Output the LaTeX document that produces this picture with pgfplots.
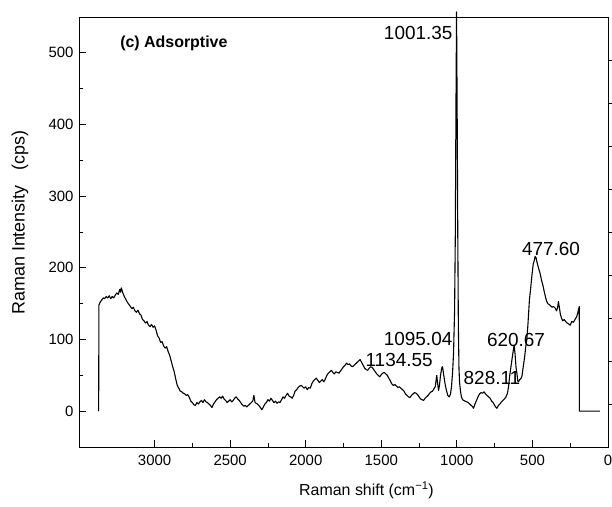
\documentclass[border=0pt]{standalone}
\usepackage{fontspec}
\setmainfont{Liberation Sans}
\usepackage{pgfplots}
\pgfplotsset{compat=1.18}
\pgfplotstableread{
x y
3370 0
3368 148
3360 152
3350 155
3340 158
3330 157
3320 160
3310 158
3300 161
3290 157
3280 160
3270 158
3260 162
3250 165
3240 163
3230 170
3225 166
3220 172
3210 165
3200 160
3190 156
3180 152
3170 149
3160 146
3150 143
3140 145
3130 140
3120 138
3110 141
3100 136
3090 134
3080 128
3070 126
3060 123
3050 125
3040 120
3030 118
3020 121
3010 117
3000 119
2990 113
2980 105
2970 102
2960 96
2950 97
2940 91
2930 88
2920 90
2910 83
2900 78
2890 70
2880 62
2870 55
2860 45
2850 36
2840 32
2830 28
2820 27
2810 25
2800 24
2790 22
2780 23
2770 19
2760 14
2750 12
2740 9
2730 8
2720 12
2710 10
2700 13
2690 15
2680 12
2670 16
2660 13
2650 12
2640 10
2630 8
2620 5
2610 10
2600 13
2590 16
2580 18
2570 20
2560 18
2550 21
2540 17
2530 15
2520 12
2510 14
2500 16
2490 13
2480 15
2470 18
2460 20
2450 17
2440 15
2430 12
2420 9
2410 7
2400 8
2390 6
2380 8
2370 10
2360 12
2350 14
2343 22
2335 12
2320 10
2310 8
2300 5
2290 2
2280 6
2270 10
2260 12
2250 16
2240 14
2230 18
2220 15
2210 12
2200 14
2190 11
2180 13
2170 12
2160 16
2150 20
2140 18
2130 22
2120 25
2110 21
2100 20
2090 18
2080 22
2070 28
2060 30
2050 33
2040 35
2030 36
2020 34
2010 32
2000 34
1990 30
1980 33
1970 32
1960 38
1950 42
1940 44
1930 46
1920 43
1910 40
1900 42
1890 44
1880 41
1870 45
1860 50
1850 53
1840 55
1830 57
1820 54
1810 52
1800 55
1790 54
1780 53
1770 56
1760 59
1750 62
1740 64
1730 67
1720 65
1710 66
1700 63
1690 62
1680 64
1670 66
1660 68
1650 70
1640 72
1630 68
1620 64
1610 60
1600 58
1590 57
1580 60
1570 62
1560 61
1550 58
1540 55
1530 52
1520 50
1510 48
1500 51
1490 53
1480 54
1470 52
1460 50
1450 46
1440 42
1430 38
1420 36
1410 37
1400 35
1390 33
1380 34
1370 32
1360 30
1350 28
1340 24
1330 22
1320 20
1310 19
1300 22
1290 24
1280 26
1270 25
1260 23
1250 20
1240 17
1230 16
1220 15
1210 18
1200 20
1190 22
1180 25
1170 27
1160 28
1150 32
1143 34
1138 42
1133 50
1128 40
1121 29
1115 36
1108 50
1100 60
1095 62
1090 55
1083 45
1077 37
1068 28
1060 22
1050 20
1042 24
1035 35
1028 55
1022 80
1015 140
1010 250
1006 420
1002 557
998 420
994 250
990 120
986 60
982 40
976 28
970 20
962 16
955 15
945 14
935 13
925 12
915 10
905 8
895 6
890 4
880 10
870 15
860 20
850 24
840 26
830 25
820 27
810 24
800 22
790 20
780 18
770 14
760 12
750 8
740 5
735 4
725 8
715 10
705 13
695 15
685 17
675 20
665 25
658 34
650 50
640 65
630 80
621 92
615 80
608 60
602 52
597 42
592 41
585 44
578 45
570 48
562 60
552 75
544 90
537 100
530 120
520 155
510 175
504 188
495 205
488 210
482 216
476 214
470 208
460 200
449 192
440 183
430 175
420 165
412 158
405 153
398 150
390 149
380 147
370 145
361 146
350 144
340 140
333 145
328 153
322 145
315 135
306 129
300 126
290 128
280 125
270 123
262 122
250 120
240 125
229 124
218 128
207 132
200 137
195 142
190 146
189 0
53 0
}\spectrum
\begin{document}
\begin{tikzpicture}
\begin{axis}[
  scale only axis,
  width=529bp, height=430bp,
  x dir=reverse,
  xmin=0, xmax=3500,
  ymin=-50, ymax=550,
  xtick={0,500,...,3000},
  ytick={0,100,...,500},
  minor x tick num=1,
  minor y tick num=1,
  xtick pos=bottom,
  ytick pos=left,
  tick align=inside,
  major tick length=7bp,
  minor tick length=4bp,
  axis line style={line width=0.8bp},
  every tick/.style={black, line width=0.8bp},
  clip=false,
  /pgf/number format/assume math mode=true,
  /pgf/number format/1000 sep={},
  tick label style={font=\fontsize{15}{18}\selectfont},
  xticklabel style={yshift=-5bp},
  yticklabel style={xshift=-2bp},
  xlabel={Raman shift (cm\textsuperscript{−1})},
  ylabel={Raman Intensity\ \ \ (cps)},
  xlabel style={at={(axis description cs:0.5435,-0.1)}, anchor=center, font=\fontsize{16}{19}\selectfont},
  ylabel style={at={(axis description cs:-0.1115,0.522)}, anchor=center, rotate=0, font=\fontsize{18}{21}\selectfont},
]
\addplot[black, line width=1.1bp, line join=round] table[x=x, y=y] {\spectrum};
\node[anchor=west, font=\bfseries\fontsize{16}{18}\selectfont, inner sep=0pt] at (axis cs:3228,513) {(c) Adsorptive};
\node[anchor=east, font=\fontsize{19}{22}\selectfont, inner sep=0pt] at (axis cs:1028,528) {1001.35};
\node[anchor=west, font=\fontsize{19}{22}\selectfont, inner sep=0pt] at (axis cs:570,226) {477.60};
\node[anchor=west, font=\fontsize{19}{22}\selectfont, inner sep=0pt] at (axis cs:801,99) {620.67};
\node[anchor=west, font=\fontsize{19}{22}\selectfont, inner sep=0pt] at (axis cs:956,46) {828.11};
\node[anchor=west, font=\fontsize{19}{22}\selectfont, inner sep=0pt] at (axis cs:1484,101) {1095.04};
\node[anchor=west, font=\fontsize{19}{22}\selectfont, inner sep=0pt] at (axis cs:1605,71) {1134.55};
\end{axis}
\begin{axis}[
  scale only axis,
  width=529bp, height=430bp,
  x dir=reverse,
  xmin=0, xmax=3500,
  ymin=-50, ymax=550,
  hide x axis,
  axis y line*=right,
  ytick={10,70,...,490},
  yticklabels={},
  tick align=outside,
  major tick length=4bp,
  axis line style={line width=0.8bp},
  every tick/.style={black, line width=0.8bp},
]
\end{axis}
\pgfresetboundingbox
\path[use as bounding box] (current axis.south west) ++(-79bp,-60bp) rectangle ++(612bp,507bp);
\end{tikzpicture}
\end{document}
